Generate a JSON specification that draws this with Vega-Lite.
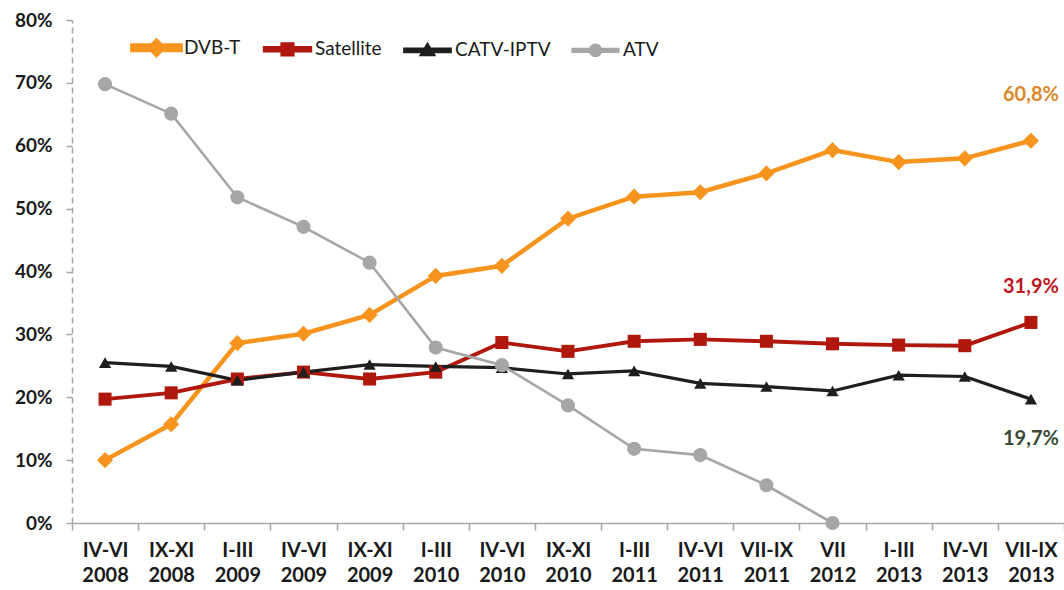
{
  "$schema": "https://vega.github.io/schema/vega-lite/v6.json",
  "autosize": {"type": "none"},
  "padding": {"left": 72, "top": 20, "right": 0, "bottom": 67},
  "width": 992,
  "height": 503,
  "background": "white",
  "config": {"view": {"stroke": null}, "font": "Lato"},
  "datasets": {
    "main": [
      {"period": "IV-VI 2008", "series": "DVB-T", "value": 10.0},
      {"period": "IX-XI 2008", "series": "DVB-T", "value": 15.7},
      {"period": "I-III 2009", "series": "DVB-T", "value": 28.6},
      {"period": "IV-VI 2009", "series": "DVB-T", "value": 30.1},
      {"period": "IX-XI 2009", "series": "DVB-T", "value": 33.1},
      {"period": "I-III 2010", "series": "DVB-T", "value": 39.3},
      {"period": "IV-VI 2010", "series": "DVB-T", "value": 40.9},
      {"period": "IX-XI 2010", "series": "DVB-T", "value": 48.4},
      {"period": "I-III 2011", "series": "DVB-T", "value": 51.9},
      {"period": "IV-VI 2011", "series": "DVB-T", "value": 52.6},
      {"period": "VII-IX 2011", "series": "DVB-T", "value": 55.6},
      {"period": "VII 2012", "series": "DVB-T", "value": 59.3},
      {"period": "I-III 2013", "series": "DVB-T", "value": 57.4},
      {"period": "IV-VI 2013", "series": "DVB-T", "value": 58.0},
      {"period": "VII-IX 2013", "series": "DVB-T", "value": 60.8},
      {"period": "IV-VI 2008", "series": "Satellite", "value": 19.7},
      {"period": "IX-XI 2008", "series": "Satellite", "value": 20.7},
      {"period": "I-III 2009", "series": "Satellite", "value": 22.9},
      {"period": "IV-VI 2009", "series": "Satellite", "value": 24.0},
      {"period": "IX-XI 2009", "series": "Satellite", "value": 22.9},
      {"period": "I-III 2010", "series": "Satellite", "value": 24.0},
      {"period": "IV-VI 2010", "series": "Satellite", "value": 28.7},
      {"period": "IX-XI 2010", "series": "Satellite", "value": 27.3},
      {"period": "I-III 2011", "series": "Satellite", "value": 28.9},
      {"period": "IV-VI 2011", "series": "Satellite", "value": 29.2},
      {"period": "VII-IX 2011", "series": "Satellite", "value": 28.9},
      {"period": "VII 2012", "series": "Satellite", "value": 28.5},
      {"period": "I-III 2013", "series": "Satellite", "value": 28.3},
      {"period": "IV-VI 2013", "series": "Satellite", "value": 28.2},
      {"period": "VII-IX 2013", "series": "Satellite", "value": 31.9},
      {"period": "IV-VI 2008", "series": "CATV-IPTV", "value": 25.5},
      {"period": "IX-XI 2008", "series": "CATV-IPTV", "value": 24.9},
      {"period": "I-III 2009", "series": "CATV-IPTV", "value": 22.7},
      {"period": "IV-VI 2009", "series": "CATV-IPTV", "value": 24.0},
      {"period": "IX-XI 2009", "series": "CATV-IPTV", "value": 25.2},
      {"period": "I-III 2010", "series": "CATV-IPTV", "value": 24.9},
      {"period": "IV-VI 2010", "series": "CATV-IPTV", "value": 24.7},
      {"period": "IX-XI 2010", "series": "CATV-IPTV", "value": 23.7},
      {"period": "I-III 2011", "series": "CATV-IPTV", "value": 24.2},
      {"period": "IV-VI 2011", "series": "CATV-IPTV", "value": 22.2},
      {"period": "VII-IX 2011", "series": "CATV-IPTV", "value": 21.7},
      {"period": "VII 2012", "series": "CATV-IPTV", "value": 21.0},
      {"period": "I-III 2013", "series": "CATV-IPTV", "value": 23.5},
      {"period": "IV-VI 2013", "series": "CATV-IPTV", "value": 23.3},
      {"period": "VII-IX 2013", "series": "CATV-IPTV", "value": 19.7},
      {"period": "IV-VI 2008", "series": "ATV", "value": 69.8},
      {"period": "IX-XI 2008", "series": "ATV", "value": 65.1},
      {"period": "I-III 2009", "series": "ATV", "value": 51.8},
      {"period": "IV-VI 2009", "series": "ATV", "value": 47.1},
      {"period": "IX-XI 2009", "series": "ATV", "value": 41.4},
      {"period": "I-III 2010", "series": "ATV", "value": 27.9},
      {"period": "IV-VI 2010", "series": "ATV", "value": 25.1},
      {"period": "IX-XI 2010", "series": "ATV", "value": 18.7},
      {"period": "I-III 2011", "series": "ATV", "value": 11.8},
      {"period": "IV-VI 2011", "series": "ATV", "value": 10.8},
      {"period": "VII-IX 2011", "series": "ATV", "value": 6.0},
      {"period": "VII 2012", "series": "ATV", "value": 0.0}
    ],
    "labels": [
      {"period": "VII-IX 2013", "series": "DVB-T", "value": 60.8, "label": "60,8%"},
      {"period": "VII-IX 2013", "series": "Satellite", "value": 31.9, "label": "31,9%"},
      {"period": "VII-IX 2013", "series": "CATV-IPTV", "value": 19.7, "label": "19,7%"}
    ]
  },
  "encoding": {
    "x": {
      "field": "period",
      "type": "ordinal",
      "bandPosition": 0.5,
      "scale": {
        "type": "band",
        "paddingInner": 0,
        "paddingOuter": 0,
        "domain": ["IV-VI 2008", "IX-XI 2008", "I-III 2009", "IV-VI 2009", "IX-XI 2009", "I-III 2010", "IV-VI 2010", "IX-XI 2010", "I-III 2011", "IV-VI 2011", "VII-IX 2011", "VII 2012", "I-III 2013", "IV-VI 2013", "VII-IX 2013"]
      },
      "axis": {
        "title": null,
        "tickBand": "extent",
        "labelExpr": "datum.value ? split(datum.value, ' ') : ''",
        "labelAngle": 0,
        "labelFont": "Lato",
        "labelFontSize": 20,
        "labelFontWeight": "bold",
        "labelColor": "#1a1a1a",
        "labelLineHeight": 25,
        "labelBaseline": "top",
        "labelPadding": 10,
        "labelOverlap": false,
        "domainColor": "#a6a6a6",
        "domainWidth": 1.5,
        "tickColor": "#a6a6a6",
        "tickWidth": 1.5,
        "tickSize": 7,
        "grid": false
      }
    },
    "y": {
      "field": "value",
      "type": "quantitative",
      "scale": {"domain": [0, 80], "nice": false},
      "axis": {
        "title": null,
        "values": [0, 10, 20, 30, 40, 50, 60, 70, 80],
        "labelExpr": "datum.value + '%'",
        "labelFont": "Lato",
        "labelFontSize": 19,
        "labelFontWeight": "bold",
        "labelColor": "#1a1a1a",
        "labelPadding": 14,
        "domainColor": "#a6a6a6",
        "domainWidth": 1.5,
        "domainDash": [6, 4],
        "tickColor": "#a6a6a6",
        "tickWidth": 1.5,
        "tickSize": 6,
        "grid": false
      }
    },
    "color": {
      "field": "series",
      "type": "nominal",
      "scale": {"domain": ["DVB-T", "Satellite", "CATV-IPTV", "ATV"], "range": ["#f7941d", "#b0180e", "#1e1e1e", "#a6a6a6"]},
      "legend": {
        "title": null,
        "orient": "none",
        "direction": "horizontal",
        "legendX": 75,
        "legendY": 18,
        "padding": 0,
        "columnPadding": 16,
        "symbolSize": 190,
        "symbolOpacity": 1,
        "labelOffset": 18,
        "labelFont": "Lato",
        "labelFontSize": 19,
        "labelColor": "#1a1a1a",
        "encode": {
          "symbols": {
            "update": {
              "shape": {"signal": "datum.value === 'DVB-T' ? 'M-3.5,-0.32H3.5V0.32H-3.5Z M0,-1L1,0L0,1L-1,0Z' : datum.value === 'Satellite' ? 'M-3.3,-0.18H3.3V0.18H-3.3Z M-0.75,-0.75H0.75V0.75H-0.75Z' : datum.value === 'CATV-IPTV' ? 'M-3.3,-0.18H3.3V0.18H-3.3Z M0,-0.8L0.85,0.6L-0.85,0.6Z' : 'M-3.3,-0.2H3.3V0.2H-3.3Z M-0.8,0A0.8,0.8 0 1,1 0.8,0A0.8,0.8 0 1,1 -0.8,0Z'"},
              "fill": {"scale": "color", "field": "value"},
              "stroke": {"value": "transparent"},
              "strokeWidth": {"value": 0},
              "opacity": {"value": 1}
            }
          }
        }
      }
    }
  },
  "layer": [
    {
      "data": {"name": "main"},
      "mark": {"type": "line"},
      "encoding": {
        "strokeWidth": {
          "field": "series",
          "type": "nominal",
          "scale": {"domain": ["DVB-T", "Satellite", "CATV-IPTV", "ATV"], "range": [4.5, 2.6, 2.6, 3]},
          "legend": null
        }
      }
    },
    {
      "data": {"name": "main"},
      "transform": [{"filter": "datum.series === 'DVB-T'"}],
      "mark": {"type": "point", "filled": true, "opacity": 1, "shape": "diamond", "size": 260}
    },
    {
      "data": {"name": "main"},
      "transform": [{"filter": "datum.series === 'Satellite'"}],
      "mark": {"type": "point", "filled": true, "opacity": 1, "shape": "square", "size": 170}
    },
    {
      "data": {"name": "main"},
      "transform": [{"filter": "datum.series === 'CATV-IPTV'"}],
      "mark": {"type": "point", "filled": true, "opacity": 1, "shape": "triangle-up", "size": 150}
    },
    {
      "data": {"name": "main"},
      "transform": [{"filter": "datum.series === 'ATV'"}],
      "mark": {"type": "point", "filled": true, "opacity": 1, "shape": "circle", "size": 200}
    },
    {
      "data": {"name": "labels"},
      "transform": [{"filter": "datum.series === 'DVB-T'"}],
      "mark": {"type": "text", "font": "Lato", "fontSize": 20, "fontWeight": "bold", "dy": -46, "align": "center", "baseline": "middle"},
      "encoding": {"text": {"field": "label"}, "color": {"value": "#d9892b"}}
    },
    {
      "data": {"name": "labels"},
      "transform": [{"filter": "datum.series === 'Satellite'"}],
      "mark": {"type": "text", "font": "Lato", "fontSize": 20, "fontWeight": "bold", "dy": -35, "align": "center", "baseline": "middle"},
      "encoding": {"text": {"field": "label"}, "color": {"value": "#c0161d"}}
    },
    {
      "data": {"name": "labels"},
      "transform": [{"filter": "datum.series === 'CATV-IPTV'"}],
      "mark": {"type": "text", "font": "Lato", "fontSize": 20, "fontWeight": "bold", "dy": 40, "align": "center", "baseline": "middle"},
      "encoding": {"text": {"field": "label"}, "color": {"value": "#3b4a35"}}
    }
  ]
}
